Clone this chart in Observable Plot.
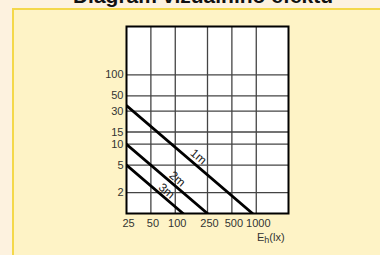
<!DOCTYPE html>
<html>
<head>
<meta charset="utf-8">
<script src="https://cdn.jsdelivr.net/npm/d3@7"></script>
<script src="https://cdn.jsdelivr.net/npm/@observablehq/plot@0.6"></script>
<style>
  html, body { margin: 0; padding: 0; background: #fdf2df; }
  #wrap { position: relative; width: 380px; height: 255px; overflow: hidden; background: #fdf2df; font-family: "Liberation Sans", Arial, sans-serif; }
  #panel { position: absolute; left: 12px; top: 8px; width: 400px; height: 300px; background: #fef3c6; border: 2px solid #f4d84a; box-sizing: border-box; }
  #title { position: absolute; left: 0; width: 406px; top: -16px; text-align: center; font-weight: bold; font-size: 21px; color: #111; white-space: nowrap; }
  #chart { position: absolute; left: 0; top: 0; }
  #xlabel { position: absolute; left: 257px; top: 231px; font-size: 11px; color: #333; }
  #xlabel sub { font-size: 9px; vertical-align: -2px; }
</style>
</head>
<body>
<div id="wrap">
  <div id="panel"></div>
  <div id="title">Diagram vizuálního efektu</div>
  <div id="chart"></div>
  <div id="xlabel">E<sub>h</sub>(lx)</div>
</div>
<script>
// Tick values
const xTicks = [25, 50, 100, 250, 500, 1000];
const yTicks = [2, 5, 10, 15, 30, 50, 100];
// Series: distance lines (E_h vs value)
const series = ["1m", "2m", "3m"];
const seriesX = [[25, 900], [25, 250], [25, 125]];
const seriesY = [[36, 1], [10, 1], [5, 1]];
// Label anchor points for each series
const labelX = [193, 106, 78];
const labelY = [6.6, 3.16, 2.12];

const lineData = series.flatMap((s, i) => seriesX[i].map((x, j) => ({s, x, y: seriesY[i][j]})));
const labelData = series.map((s, i) => ({s, x: labelX[i], y: labelY[i]}));

const plot = Plot.plot({
  width: 380,
  height: 255,
  marginLeft: 126,
  marginRight: 92,
  marginTop: 26,
  marginBottom: 42,
  style: {background: "transparent", fontFamily: "Liberation Sans, Arial, sans-serif", fontSize: "11px", color: "#333"},
  x: {type: "log", domain: [25, 2500], label: null, axis: null},
  y: {type: "log", domain: [1, 500], label: null, axis: null},
  marks: [
    Plot.frame({fill: "white", stroke: null}),
    Plot.ruleX(xTicks.slice(1), {stroke: "#444", strokeWidth: 1.3, strokeOpacity: 1}),
    Plot.ruleY(yTicks, {stroke: "#444", strokeWidth: 1.3, strokeOpacity: 1}),
    Plot.line(lineData, {x: "x", y: "y", z: "s", stroke: "black", strokeWidth: 2.8, clip: true}),
    Plot.text(labelData, {x: "x", y: "y", text: "s", rotate: 40.5, fill: "#222", fontSize: 12}),
    Plot.frame({stroke: "black", strokeWidth: 2}),
    // tick labels
    Plot.text(yTicks, {y: d => d, text: d => String(d), frameAnchor: "left", textAnchor: "end", dx: -3, fill: "#333", fontSize: 11}),
    Plot.text(xTicks, {x: d => d, text: d => String(d), frameAnchor: "bottom", lineAnchor: "top", dx: 2, dy: 6, fill: "#333", fontSize: 11, letterSpacing: "-0.4px"})
  ]
});
document.getElementById("chart").appendChild(plot);
</script>
</body>
</html>
